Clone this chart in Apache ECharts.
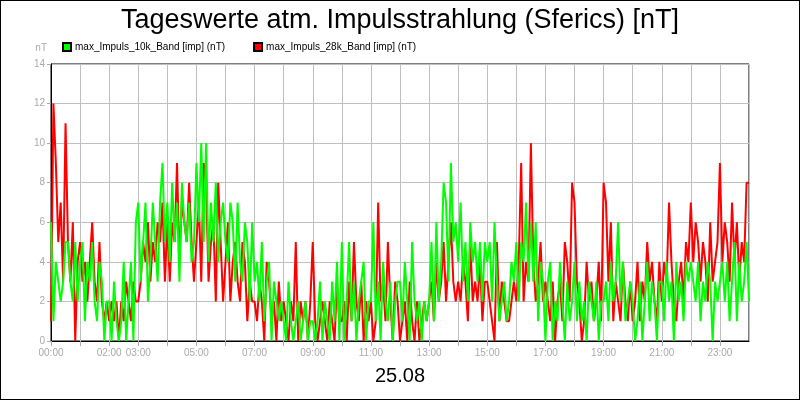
<!DOCTYPE html>
<html>
<head>
<meta charset="utf-8">
<title>Tageswerte atm. Impulsstrahlung</title>
<script src="https://cdn.jsdelivr.net/npm/echarts@6/dist/echarts.min.js"></script>
<style>
  html, body { margin: 0; padding: 0; background: #fff; }
  #chart { width: 800px; height: 400px; box-sizing: border-box; border: 1px solid #000; }
</style>
</head>
<body>
<div id="chart"></div>
<script>
// 5-Minuten-Werte, 00:00 bis 24:00 (je Zeile eine Stunde)
const band10k = [
  6,1,4,3,2,3,5,5,3,2,5,2,
  4,5,1,4,3,5,2,1,4,3,0,2,
  2,0,3,1,0,1,4,0,2,4,0,6,
  7,3,5,7,2,4,7,5,3,7,9,5,
  7,4,8,5,7,3,8,6,5,7,4,5,
  9,6,10,5,10,4,7,5,8,4,6,7,
  5,4,7,6,3,7,4,3,6,5,2,6,
  3,4,2,5,1,3,4,0,3,2,1,2,
  1,0,3,1,0,1,2,0,1,2,0,1,
  1,0,1,3,0,2,1,0,3,1,4,0,
  5,0,2,5,1,3,0,2,3,4,0,2,
  2,6,1,3,0,4,2,1,3,0,2,3,
  3,1,4,2,0,5,2,1,2,0,2,1,
  2,5,1,6,2,4,8,7,3,9,5,6,
  4,7,3,5,2,6,4,5,3,5,2,5,
  4,5,2,6,3,1,2,3,1,2,4,3,
  5,2,5,4,7,3,6,3,6,1,4,3,
  0,3,4,0,2,1,4,2,0,3,1,2,
  4,1,3,1,2,0,3,2,1,3,0,2,
  2,3,1,4,2,3,6,2,4,1,2,3,
  2,0,1,3,0,2,4,1,3,2,0,3,
  3,1,4,2,3,0,4,2,3,1,4,3,
  4,3,2,4,1,3,2,4,3,0,3,2,
  3,4,2,4,1,3,5,1,4,2,3,5,
  2
];
const band28k = [
  1,12,9,5,7,3,11,5,3,6,0,4,
  5,3,4,2,4,6,3,2,5,2,1,2,
  1,2,1,2,0,2,1,3,2,1,3,2,
  2,3,5,4,6,3,5,4,6,5,7,3,
  6,3,6,5,9,4,7,6,5,8,5,3,
  5,7,3,9,8,3,5,6,2,8,5,2,
  4,6,2,4,5,3,2,5,4,1,3,2,
  2,1,3,2,0,4,3,1,2,0,3,1,
  2,1,0,2,1,5,0,2,1,2,0,2,
  5,1,0,1,2,1,0,2,1,0,3,1,
  1,2,0,3,1,5,2,1,3,0,2,1,
  2,0,1,7,2,3,1,5,2,0,3,2,
  0,1,2,0,3,1,0,2,0,1,2,1,
  2,3,1,4,2,3,5,2,4,6,3,2,
  3,2,4,3,1,5,2,3,2,4,1,3,
  3,2,1,0,5,1,3,2,1,1,2,3,
  2,4,9,2,4,3,10,4,2,3,5,2,
  3,2,1,3,0,2,3,1,5,4,2,8,
  7,3,2,0,1,4,2,3,1,2,4,1,
  8,7,3,6,1,3,2,1,4,2,1,3,
  1,2,4,1,3,2,5,3,4,2,1,4,
  2,4,3,7,4,2,1,3,4,2,5,4,
  7,4,6,5,3,5,4,2,6,3,4,5,
  9,4,6,5,3,7,4,6,3,5,4,8,
  8
];
const labelHours = [0, 2, 3, 5, 7, 9, 11, 13, 15, 17, 19, 21, 23];
const seriesNames = ['max_Impuls_10k_Band [imp] (nT)', 'max_Impuls_28k_Band [imp] (nT)'];
const dayLabel = '25.08';

const stepMin = 5;
function withTime(values) {
  return values.map((v, i) => [i * stepMin, v]);
}
function hhmm(min) {
  const h = Math.floor(min / 60);
  return (h < 10 ? '0' : '') + h + ':00';
}

const chart = echarts.init(document.getElementById('chart'));

const option = {
  animation: false,
  title: {
    text: 'Tageswerte atm. Impulsstrahlung (Sferics) [nT]',
    left: 'center',
    top: 1,
    textStyle: { fontFamily: 'Liberation Sans', fontSize: 27, fontWeight: 'normal', color: '#000' }
  },
  legend: {
    data: seriesNames,
    left: 56,
    top: 36,
    itemWidth: 8,
    itemHeight: 8,
    itemGap: 28,
    icon: 'rect',
    textStyle: { fontFamily: 'Liberation Sans', fontSize: 10, color: '#000', padding: [0, 0, 0, -1] }
  },
  grid: {
    left: 50, right: 50, top: 63, bottom: 58,
    show: true, borderColor: '#000', borderWidth: 1
  },
  xAxis: {
    type: 'value',
    min: 0,
    max: 1440,
    interval: 60,
    axisLine: { lineStyle: { color: '#000', width: 1 } },
    axisTick: { length: 5, lineStyle: { color: '#aaa' } },
    splitLine: { lineStyle: { color: '#c0c0c0', width: 1 } },
    axisLabel: {
      color: '#aaa',
      fontFamily: 'Liberation Sans',
      fontSize: 10,
      margin: 7,
      showMaxLabel: false,
      formatter: v => labelHours.includes(v / 60) ? hhmm(v) : ''
    }
  },
  yAxis: {
    type: 'value',
    min: 0,
    max: 14,
    interval: 2,
    name: 'nT',
    nameGap: 11,
    nameTextStyle: { color: '#aaa', fontFamily: 'Liberation Sans', fontSize: 10, align: 'right', padding: [0, 4, 0, 0] },
    axisLine: { show: true, lineStyle: { color: '#000', width: 1 } },
    axisTick: { show: true, length: 4, lineStyle: { color: '#aaa' } },
    splitLine: { lineStyle: { color: '#c0c0c0', width: 1 } },
    axisLabel: { color: '#aaa', fontFamily: 'Liberation Sans', fontSize: 10, margin: 6 }
  },
  graphic: [{
    type: 'text',
    left: 'center',
    top: 365,
    style: { text: dayLabel, fontFamily: 'Liberation Sans', fontSize: 20, fill: '#000' }
  }],
  series: [
    {
      name: seriesNames[1],
      type: 'line',
      data: withTime(band28k),
      showSymbol: false,
      z: 2,
      lineStyle: { color: '#ff0000', width: 2 },
      itemStyle: { color: '#ff0000', borderColor: '#000', borderWidth: 1 }
    },
    {
      name: seriesNames[0],
      type: 'line',
      data: withTime(band10k),
      showSymbol: false,
      z: 3,
      lineStyle: { color: '#00ff00', width: 2 },
      itemStyle: { color: '#00ff00', borderColor: '#000', borderWidth: 1 }
    }
  ]
};

chart.setOption(option);
</script>
</body>
</html>
